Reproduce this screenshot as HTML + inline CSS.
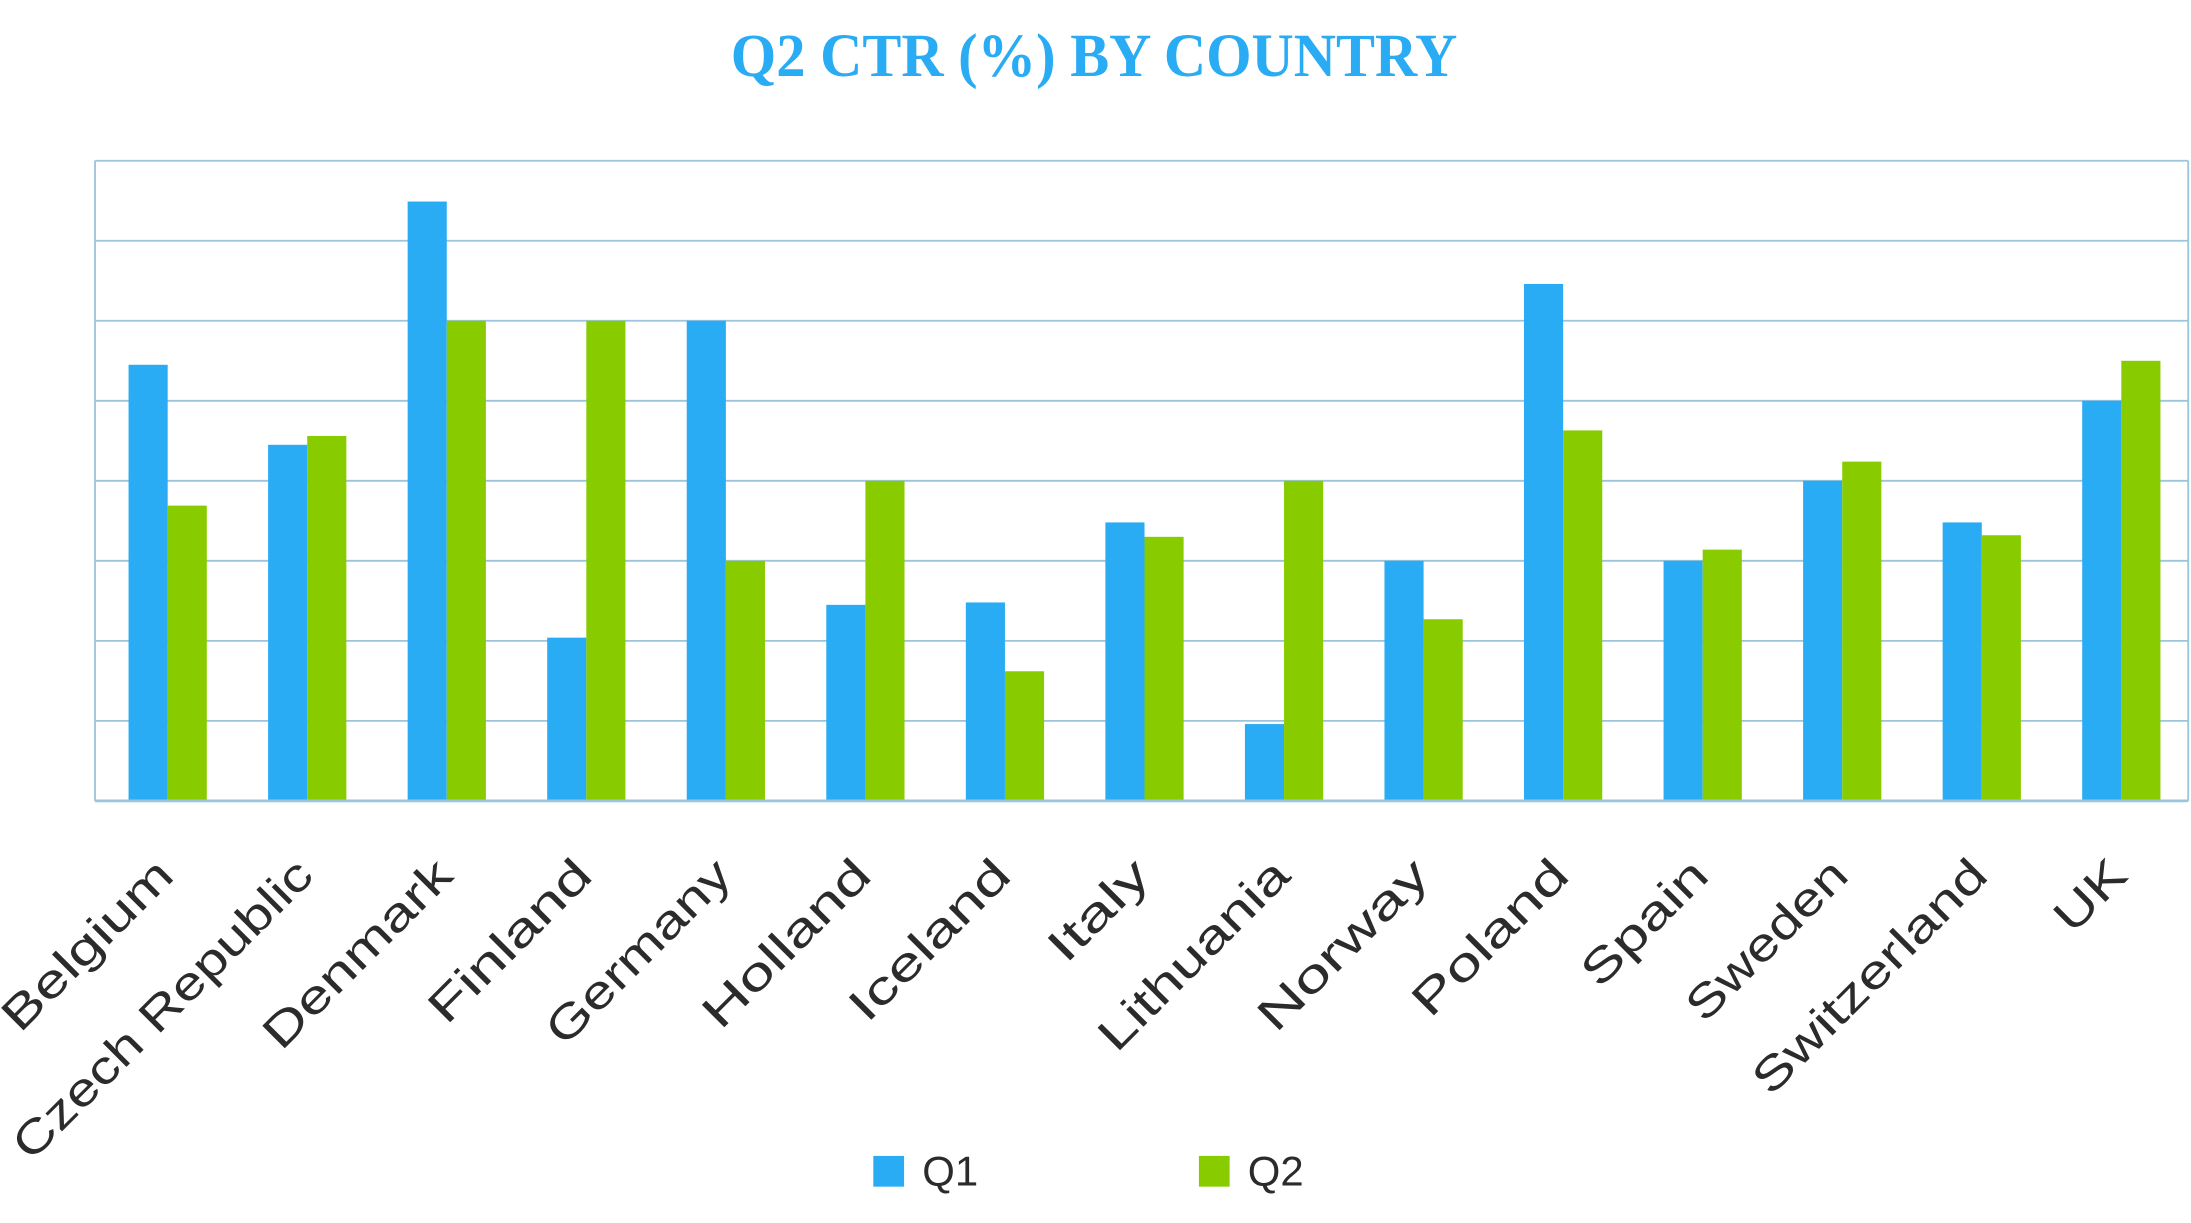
<!DOCTYPE html>
<html><head><meta charset="utf-8"><style>html,body{margin:0;padding:0;background:#fff}svg{display:block}</style></head>
<body>
<svg width="2191" height="1223" viewBox="0 0 1568 875" preserveAspectRatio="none" xmlns="http://www.w3.org/2000/svg">
<rect width="1568" height="875" fill="#fff"/>
<text x="523" y="54.5" font-family="Liberation Serif, serif" font-weight="bold" font-size="44" fill="#29acf4" textLength="520" lengthAdjust="spacingAndGlyphs">Q2 CTR (%) BY COUNTRY</text>
<g stroke="#9cc4dc" stroke-width="1.3">
<line x1="68" y1="115" x2="1566" y2="115"/>
<line x1="68" y1="172.25" x2="1566" y2="172.25"/>
<line x1="68" y1="229.5" x2="1566" y2="229.5"/>
<line x1="68" y1="286.75" x2="1566" y2="286.75"/>
<line x1="68" y1="344" x2="1566" y2="344"/>
<line x1="68" y1="401.25" x2="1566" y2="401.25"/>
<line x1="68" y1="458.5" x2="1566" y2="458.5"/>
<line x1="68" y1="515.75" x2="1566" y2="515.75"/>
<line x1="68" y1="115" x2="68" y2="573"/>
<line x1="1566" y1="115" x2="1566" y2="573"/>
</g>
<g id="bars"></g>
<line x1="68" y1="573" x2="1566" y2="573" stroke="#9cc4dc" stroke-width="2"/>
<g id="labels" font-family="Liberation Sans, sans-serif" font-size="33" fill="#2b2b2b"></g>
<rect x="625" y="827" width="22" height="22" fill="#29acf4"/>
<text x="660" y="848" font-family="Liberation Sans, sans-serif" font-size="30" fill="#2b2b2b">Q1</text>
<rect x="858" y="827" width="22" height="22" fill="#88cc00"/>
<text x="893" y="848" font-family="Liberation Sans, sans-serif" font-size="30" fill="#2b2b2b">Q2</text>
<script>
var d=[["Belgium",5.45,3.69,158],["Czech Republic",4.45,4.56,288],["Denmark",7.49,6.0,176],["Finland",2.04,6.0,150],["Germany",6.0,3.0,172],["Holland",2.45,4.0,155],["Iceland",2.48,1.62,148],["Italy",3.48,3.3,88],["Lithuania",0.96,4.0,178],["Norway",3.0,2.27,158],["Poland",6.46,4.63,143],["Spain",3.0,3.14,113],["Sweden",4.0,4.24,148],["Switzerland",3.48,3.32,222],["UK",5.0,5.5,58]];
var ns="http://www.w3.org/2000/svg",b=document.getElementById("bars"),l=document.getElementById("labels");
var u=57.25,base=573,cw=(1566-68)/15;
d.forEach(function(r,i){
 var c=68+cw*i+52;
 [[r[1],c-28,"#29acf4"],[r[2],c,"#88cc00"]].forEach(function(v){
  var e=document.createElementNS(ns,"rect");e.setAttribute("x",v[1]);e.setAttribute("y",base-v[0]*u);
  e.setAttribute("width",28);e.setAttribute("height",v[0]*u);e.setAttribute("fill",v[2]);b.appendChild(e);});
 var t=document.createElementNS(ns,"text");var x=c+6,y=628;
 t.setAttribute("x",x);t.setAttribute("y",y);t.setAttribute("text-anchor","end");
 t.setAttribute("transform","rotate(-45 "+x+" "+y+")");
 t.setAttribute("textLength",r[3]);t.setAttribute("lengthAdjust","spacingAndGlyphs");
 t.textContent=r[0];l.appendChild(t);
});
</script>
</svg>
</body></html>
